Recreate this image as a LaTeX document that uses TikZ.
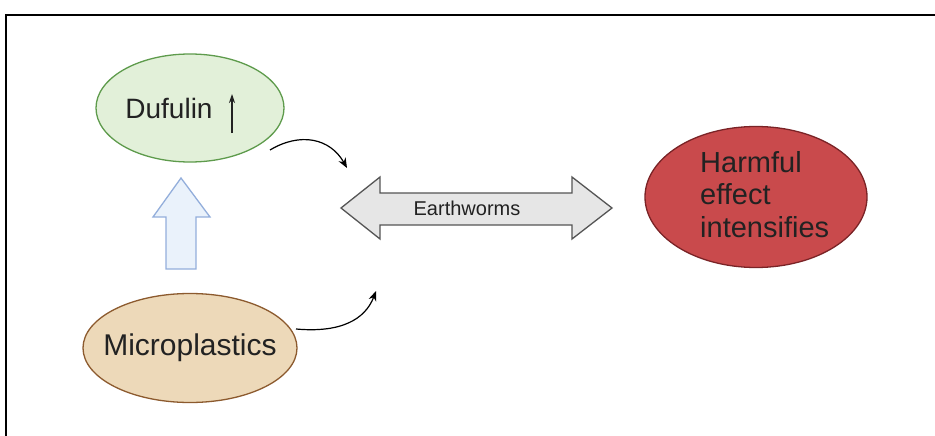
\documentclass[tikz,border=0pt]{standalone}
\usepackage{fontspec}
\setmainfont{Liberation Sans}
\usetikzlibrary{arrows.meta,shapes.geometric}
\definecolor{gfill}{HTML}{E2F0D9}
\definecolor{gline}{HTML}{5E9B4C}
\definecolor{tfill}{HTML}{EDD9B9}
\definecolor{tline}{HTML}{8C5A2E}
\definecolor{rfill}{HTML}{C94A4C}
\definecolor{rline}{HTML}{7A2326}
\definecolor{bfill}{HTML}{EAF2FB}
\definecolor{bline}{HTML}{93AEDB}
\definecolor{dfill}{HTML}{E6E6E6}
\definecolor{dline}{HTML}{555555}
\definecolor{txt}{HTML}{222222}
\begin{document}
\begin{tikzpicture}[x=1pt,y=-1pt,
  blob/.style={ellipse,line width=1.3pt,inner sep=0pt},
  lbl/.style={text=txt,inner sep=0pt},
  curvy/.style={line width=1.2pt,-{Stealth[length=10pt,width=8pt]}}]
\useasboundingbox (0,0) rectangle (935,436);
\draw[line width=2.4pt] (6,450) -- (6,15) -- (950,15);
% ellipses
\node[blob,draw=gline,fill=gfill,minimum width=188pt,minimum height=108pt] (duf) at (190,108) {};
\node[blob,draw=tline,fill=tfill,minimum width=214pt,minimum height=109pt] (mic) at (190,348) {};
\node[blob,draw=rline,fill=rfill,minimum width=222pt,minimum height=141pt] (harm) at (756,197) {};
% texts
\node[lbl,font=\fontsize{28}{32}\selectfont] (duft) at (169,108) {Dufulin};
\coordinate (ua) at (232,133);
\coordinate (ub) at (232,94);
\draw[line width=1.1pt,txt,-{Stealth[length=9pt,width=6pt]}] (ua) -- (ub);
\node[lbl,font=\fontsize{30}{34}\selectfont] (mict) at (190,348) {Microplastics};
\node[lbl,anchor=base west,font=\fontsize{29}{32}\selectfont] (h1) at (700,172) {Harmful};
\node[lbl,anchor=base west,font=\fontsize{29}{32}\selectfont] (h2) at (700,204) {effect};
\node[lbl,anchor=base west,font=\fontsize{29}{32}\selectfont] (h3) at (700,237) {intensifies};
% blue up arrow
\draw[line width=1.3pt,draw=bline,fill=bfill] (166,269) -- (166,217) -- (153,217) -- (181,178) -- (210,217) -- (196,217) -- (196,269) -- cycle;
% double arrow
\draw[line width=1.3pt,draw=dline,fill=dfill] (341,208) -- (380,177) -- (380,193) -- (572,193) -- (572,177) -- (612,208) -- (572,239) -- (572,225) -- (380,225) -- (380,239) -- cycle;
\node[lbl,font=\fontsize{20}{22}\selectfont] (ew) at (467,208) {Earthworms};
% curved arrows
\coordinate (c1s) at (270,150);
\coordinate (c1e) at (347,168);
\coordinate (c2s) at (296,329);
\coordinate (c2e) at (376,291);
\draw[curvy] (c1s) .. controls (300,132) and (330,138) .. (c1e);
\draw[curvy] (c2s) .. controls (340,333) and (365,320) .. (c2e);
\end{tikzpicture}
\end{document}
